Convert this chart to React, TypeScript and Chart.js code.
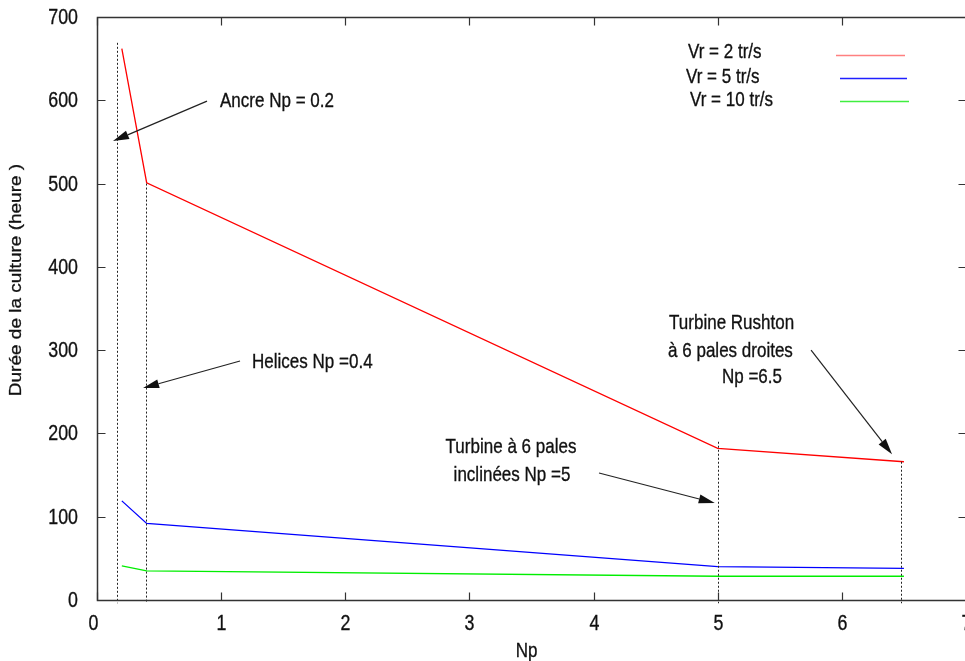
import React, { useEffect, useRef } from "react";
import { Chart, registerables } from "chart.js";

Chart.register(...registerables);

// ---- data ----
const npValues = [0.2, 0.4, 5, 6.5];
const dureeVr2 = [662, 501, 182, 166];
const dureeVr5 = [119, 92, 40, 38];
const dureeVr10 = [41, 35, 28.5, 28.5];
const seriesLabels = ["Vr = 2 tr/s", "Vr = 5 tr/s", "Vr = 10 tr/s"];
const seriesColors = ["#ff0000", "#0000ff", "#00ee00"];
const legendColors = ["#ff8080", "#2020ff", "#40ee40"];

const xTickValues = [0, 1, 2, 3, 4, 5, 6, 7];
const yTickValues = [0, 100, 200, 300, 400, 500, 600, 700];

const xTitle = "Np";
const yTitle = "Durée de la culture (heure )";

// dashed reference lines (Np, top value)
const markerNp = [0.164, 0.392, 5.0, 6.477];
const markerTop = [669, 500, 190, 166];

// arrows (data units)
const arrowFromNp = [0.886, 1.152, 4.044, 5.752];
const arrowFromDuree = [599, 287, 152.5, 300];
const arrowToNp = [0.129, 0.371, 4.976, 6.404];
const arrowToDuree = [551, 254.5, 116.5, 175];

// annotation texts (data units)
const annotationLines = [
  "Ancre Np = 0.2",
  "Helices Np =0.4",
  "Turbine à 6 pales",
  "inclinées Np =5",
  "Turbine Rushton",
  "à 6 pales droites",
  "Np =6.5",
];
const annotationNp = [0.991, 1.249, 3.335, 3.343, 4.608, 4.6, 5.034];
const annotationDuree = [599, 286, 183.7, 150.1, 332.6, 299, 267.8];
const annotationAlign = ["left", "left", "center", "center", "left", "left", "left"];

// ---- style / layout ----
const FONT = '"Liberation Sans", Arial, sans-serif';
const SX = 0.81;
const TEXT_COLOR = "#111";
const AXIS_COLOR = "#333";
const legendLayout = [
  { tx: 688, ty: 52, x1: 836, x2: 905, ly: 55 },
  { tx: 686, ty: 77, x1: 840, x2: 907, ly: 78 },
  { tx: 690, ty: 100, x1: 840, x2: 909, ly: 101 },
];

function drawText(
  ctx: CanvasRenderingContext2D,
  text: string,
  x: number,
  y: number,
  size: number,
  align: CanvasTextAlign,
  baseline: CanvasTextBaseline
) {
  ctx.save();
  ctx.translate(x, y);
  ctx.scale(SX, 1);
  ctx.font = `${size}px ${FONT}`;
  ctx.fillStyle = TEXT_COLOR;
  ctx.strokeStyle = TEXT_COLOR;
  ctx.lineWidth = 0.35;
  ctx.textAlign = align;
  ctx.textBaseline = baseline;
  ctx.fillText(text, 0, 0);
  ctx.strokeText(text, 0, 0);
  ctx.restore();
}

const decorPlugin = {
  id: "gnuplotDecor",
  afterDatasetsDraw(chart: any) {
    const ctx: CanvasRenderingContext2D = chart.ctx;
    const xs = chart.scales.x;
    const ys = chart.scales.y;
    const { left, right, top, bottom } = chart.chartArea;
    const L = Math.round(left) + 0.5;
    const R = Math.round(right) + 0.5;
    const T = Math.round(top) + 0.5;
    const B = Math.round(bottom) + 0.5;

    ctx.save();
    // dashed markers
    ctx.strokeStyle = "#222";
    ctx.lineWidth = 1;
    ctx.setLineDash([2, 2]);
    markerNp.forEach((np, i) => {
      const px = Math.round(xs.getPixelForValue(np)) + 0.5;
      ctx.beginPath();
      ctx.moveTo(px, ys.getPixelForValue(markerTop[i]));
      ctx.lineTo(px, ys.getPixelForValue(-4));
      ctx.stroke();
    });
    ctx.setLineDash([]);

    // frame
    ctx.strokeStyle = AXIS_COLOR;
    ctx.lineWidth = 1.5;
    ctx.beginPath();
    ctx.moveTo(L, T);
    ctx.lineTo(L, B);
    ctx.lineTo(R, B);
    ctx.lineTo(R, T);
    ctx.closePath();
    ctx.stroke();

    // inward ticks (mirrored)
    ctx.lineWidth = 1.2;
    const TL = 8;
    xTickValues.forEach((v) => {
      const px = Math.round(xs.getPixelForValue(v)) + 0.5;
      ctx.beginPath();
      ctx.moveTo(px, B);
      ctx.lineTo(px, B - TL);
      ctx.moveTo(px, T);
      ctx.lineTo(px, T + TL);
      ctx.stroke();
      drawText(ctx, String(v), px - (v === 0 ? 4 : 0), B + 12, 22, "center", "top");
    });
    yTickValues.forEach((v) => {
      const py = Math.round(ys.getPixelForValue(v)) + 0.5;
      ctx.beginPath();
      ctx.moveTo(L, py);
      ctx.lineTo(L + TL, py);
      ctx.moveTo(R, py);
      ctx.lineTo(R - TL, py);
      ctx.stroke();
      drawText(ctx, String(v), left - 19, py, 22, "right", "middle");
    });

    // arrows
    ctx.strokeStyle = "#222";
    ctx.fillStyle = "#111";
    ctx.lineWidth = 1.2;
    arrowFromNp.forEach((_, i) => {
      const x1 = xs.getPixelForValue(arrowFromNp[i]);
      const y1 = ys.getPixelForValue(arrowFromDuree[i]);
      const x2 = xs.getPixelForValue(arrowToNp[i]);
      const y2 = ys.getPixelForValue(arrowToDuree[i]);
      const ang = Math.atan2(y2 - y1, x2 - x1);
      const hl = 16;
      const hw = 4.5;
      const bx = x2 - hl * Math.cos(ang);
      const by = y2 - hl * Math.sin(ang);
      ctx.beginPath();
      ctx.moveTo(x1, y1);
      ctx.lineTo(bx, by);
      ctx.stroke();
      ctx.beginPath();
      ctx.moveTo(x2, y2);
      ctx.lineTo(bx + hw * Math.sin(ang), by - hw * Math.cos(ang));
      ctx.lineTo(bx - hw * Math.sin(ang), by + hw * Math.cos(ang));
      ctx.closePath();
      ctx.fill();
    });

    // annotation texts
    annotationLines.forEach((t, i) => {
      drawText(
        ctx,
        t,
        xs.getPixelForValue(annotationNp[i]),
        ys.getPixelForValue(annotationDuree[i]),
        21,
        annotationAlign[i] as CanvasTextAlign,
        "middle"
      );
    });

    // legend
    seriesLabels.forEach((lab, i) => {
      const lg = legendLayout[i];
      drawText(ctx, lab, lg.tx, lg.ty, 21, "left", "middle");
    });
    seriesLabels.forEach((_, i) => {
      const lg = legendLayout[i];
      ctx.strokeStyle = legendColors[i];
      ctx.lineWidth = 1.6;
      ctx.beginPath();
      ctx.moveTo(lg.x1, lg.ly + 0.5);
      ctx.lineTo(lg.x2, lg.ly + 0.5);
      ctx.stroke();
    });

    // axis titles
    drawText(ctx, xTitle, (left + right) / 2 - 5, 651, 21, "center", "middle");
    ctx.save();
    ctx.translate(17, 280);
    ctx.rotate(-Math.PI / 2);
    ctx.scale(1, 0.85);
    ctx.font = `19px ${FONT}`;
    ctx.fillStyle = TEXT_COLOR;
    ctx.strokeStyle = TEXT_COLOR;
    ctx.lineWidth = 0.35;
    ctx.textAlign = "center";
    ctx.textBaseline = "middle";
    ctx.fillText(yTitle, 0, 0);
    ctx.strokeText(yTitle, 0, 0);
    ctx.restore();

    ctx.restore();
  },
};

export default function App() {
  const ref = useRef<HTMLCanvasElement | null>(null);
  useEffect(() => {
    if (!ref.current) return;
    const series = [dureeVr2, dureeVr5, dureeVr10];
    const chart = new Chart(ref.current, {
      type: "line",
      data: {
        datasets: series.map((vals, i) => ({
          label: seriesLabels[i],
          data: npValues.map((x, j) => ({ x, y: vals[j] })),
          borderColor: seriesColors[i],
          borderWidth: 1.3,
          pointRadius: 0,
          tension: 0,
          fill: false,
        })),
      },
      options: {
        animation: false,
        responsive: false,
        devicePixelRatio: 1,
        layout: { padding: { top: 17, right: 34, left: 0, bottom: 0 } },
        plugins: { legend: { display: false }, tooltip: { enabled: false } },
        scales: {
          x: {
            type: "linear",
            min: 0,
            max: 7,
            ticks: { stepSize: 1, display: false },
            grid: { display: false },
            border: { display: false },
            afterFit: (s: any) => {
              s.height = 61;
            },
          },
          y: {
            type: "linear",
            min: 0,
            max: 700,
            ticks: { stepSize: 100, display: false },
            grid: { display: false },
            border: { display: false },
            afterFit: (s: any) => {
              s.width = 97;
            },
          },
        },
      },
      plugins: [decorPlugin],
    });
    return () => chart.destroy();
  }, []);
  return (
    <div style={{ position: "fixed", left: 0, top: 0, width: 965, height: 661, overflow: "hidden", background: "#fff" }}>
      <canvas ref={ref} width={1000} height={661} style={{ display: "block" }} />
    </div>
  );
}
